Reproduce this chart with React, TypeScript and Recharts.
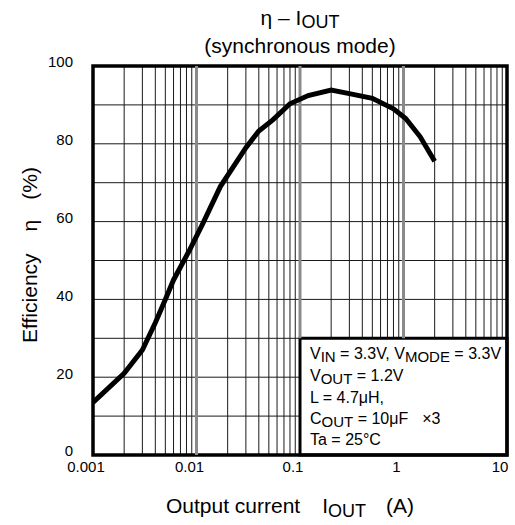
import React from 'react';
import {
  LineChart,
  Line,
  XAxis,
  YAxis,
  CartesianGrid,
  ReferenceLine,
  ReferenceArea,
  Customized,
} from 'recharts';

// efficiency vs output current, synchronous mode
const currentA = [
  0.001, 0.002, 0.003, 0.004, 0.005, 0.006, 0.0085, 0.0115, 0.017, 0.03, 0.04,
  0.055, 0.08, 0.12, 0.2, 0.3, 0.5, 0.8, 1.05, 1.45, 2.0,
];
const efficiencyPct = [
  13.5, 21, 27, 34, 40, 45, 52.5, 59.5, 69, 79, 83.3, 86.2, 90.3, 92.4, 93.8,
  92.9, 91.7, 89, 86.5, 81.8, 75.5,
];

const xDecades = [0.001, 0.01, 0.1, 1, 10];
const xMinor = [1, 2, 3, 4, 5, 6, 7, 8, 9];
const yTicks = [0, 10, 20, 30, 40, 50, 60, 70, 80, 90, 100];
const yLabelTicks = [0, 20, 40, 60, 80, 100];
const boxTop = 30; // top of the conditions box, in %

const xTicks = [
  ...xDecades.slice(0, -1).flatMap((d) => xMinor.map((m) => +(d * m).toPrecision(3))),
  10,
];

const data = currentA.map((x, i) => ({ x, eff: efficiencyPct[i] }));

const FONT = '"Liberation Sans", Arial, sans-serif';

const Texts = () => (
  <g fontFamily={FONT} fill="#000">
    <text x={300} y={25} textAnchor="middle" fontSize={21}>
      η – I<tspan fontSize={18} dy={3}>OUT</tspan>
    </text>
    <text x={300} y={53} textAnchor="middle" fontSize={21}>
      (synchronous mode)
    </text>
    <text transform="translate(37,255) rotate(-90)" textAnchor="middle" fontSize={21}>
      Efficiency<tspan dx={22}>η</tspan>
      <tspan dx={20}>(%)</tspan>
    </text>
    <text x={290} y={513} textAnchor="middle" fontSize={21}>
      Output current<tspan dx={22}>I</tspan>
      <tspan fontSize={18} dy={4}>OUT</tspan>
      <tspan dx={20} dy={-4}>(A)</tspan>
    </text>
  </g>
);

// condition text drawn inside the white box
const Conditions = ({ viewBox }: any) => {
  if (!viewBox) return null;
  const x = viewBox.x + 10;
  const y = viewBox.y;
  return (
    <g fontFamily={FONT} fill="#000" fontSize={16}>
      <text x={x} y={y + 21}>
        V<tspan fontSize={15} dy={3}>IN</tspan>
        <tspan dy={-3}> = 3.3V, V</tspan>
        <tspan fontSize={15} dy={3}>MODE</tspan>
        <tspan dy={-3}> = 3.3V</tspan>
      </text>
      <text x={x} y={y + 43}>
        V<tspan fontSize={15} dy={3}>OUT</tspan>
        <tspan dy={-3}> = 1.2V</tspan>
      </text>
      <text x={x} y={y + 65}>L = 4.7μH,</text>
      <text x={x} y={y + 86}>
        C<tspan fontSize={15} dy={3}>OUT</tspan>
        <tspan dy={-3}> = 10μF</tspan>
        <tspan dx={14}>×3</tspan>
      </text>
      <text x={x} y={y + 107}>Ta = 25°C</text>
    </g>
  );
};

export default function App() {
  return (
    <div style={{ position: 'absolute', left: 0, top: 0, width: 515, height: 525, background: '#fff' }}>
      <LineChart
        width={515}
        height={525}
        data={data}
        margin={{ top: 66, right: 8, bottom: 40, left: 0 }}
      >
        <CartesianGrid stroke="#1a1a1a" strokeWidth={1} />
        <XAxis
          dataKey="x"
          type="number"
          scale="log"
          domain={[0.001, 10]}
          ticks={xTicks}
          interval={0}
          allowDataOverflow
          tickFormatter={(v: number) => (xDecades.includes(v) ? String(v) : '')}
          tick={{ fill: '#000', fontSize: 15, fontFamily: FONT, dx: -7 }}
          tickLine={false}
          axisLine={false}
          tickSize={0}
          tickMargin={6}
          height={30}
        />
        <YAxis
          type="number"
          domain={[0, 100]}
          ticks={yTicks}
          interval={0}
          tickFormatter={(v: number) => (yLabelTicks.includes(v) ? String(v) : '')}
          tick={{ fill: '#000', fontSize: 15, fontFamily: FONT, dy: -4 }}
          tickLine={false}
          axisLine={false}
          tickSize={0}
          tickMargin={20}
          width={93}
        />
        <ReferenceLine x={0.01} stroke="#8a8a8a" strokeWidth={3} />
        {xDecades.slice(2, -1).map((d) => (
          <ReferenceLine
            key={d}
            segment={[{ x: d, y: boxTop }, { x: d, y: 100 }]}
            stroke="#8a8a8a"
            strokeWidth={3}
          />
        ))}
        <ReferenceArea
          x1={0.1}
          x2={10}
          y1={0}
          y2={boxTop}
          fill="#fff"
          fillOpacity={1}
          stroke="#000"
          strokeWidth={3}
          ifOverflow="visible"
          label={<Conditions />}
        />
        <Line
          dataKey="eff"
          type="linear"
          stroke="#000"
          strokeWidth={5}
          dot={false}
          isAnimationActive={false}
        />
        <ReferenceArea
          x1={0.001}
          x2={10}
          y1={0}
          y2={100}
          fill="none"
          stroke="#000"
          strokeWidth={3.5}
          ifOverflow="visible"
        />
        <Customized component={Texts} />
      </LineChart>
    </div>
  );
}
